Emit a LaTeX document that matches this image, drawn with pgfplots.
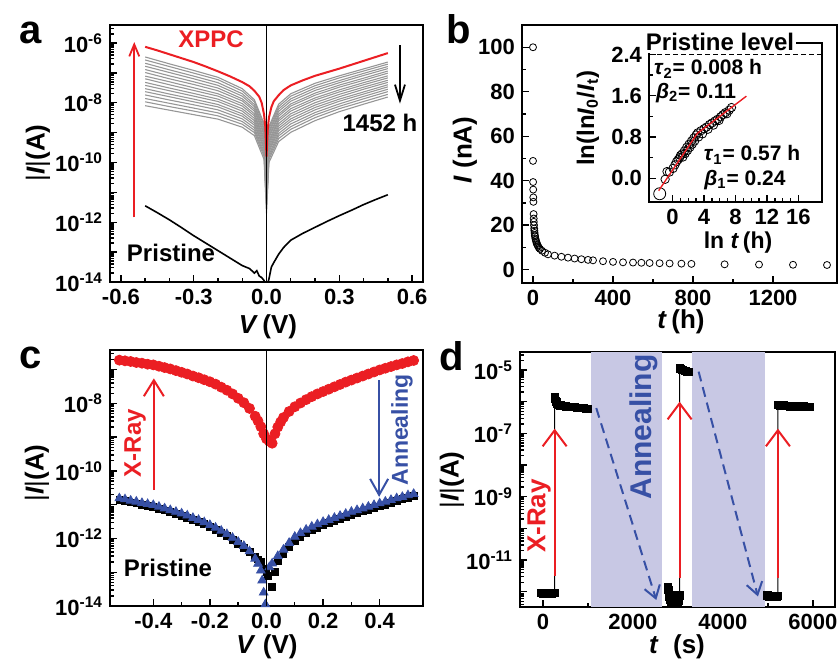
\documentclass[border=0pt]{standalone}
\usepackage{fontspec}
\setmainfont{Liberation Sans}
\usepackage{pgfplots}
\pgfplotsset{compat=1.18}
\usepackage{pgfplotstable}
\usetikzlibrary{arrows.meta}

\definecolor{myred}{RGB}{235,30,35}
\definecolor{myblue}{RGB}{55,80,165}
\definecolor{mygray}{RGB}{150,150,150}
\definecolor{lav}{RGB}{200,200,228}

\pgfplotsset{
 base/.style={scale only axis, anchor=north west, clip mode=individual,
   axis line style={line width=0.9pt}, tick align=inside,
   xtick pos=bottom, ytick pos=left,
   major tick length=3.5pt, minor tick length=1.8pt,
   tick style={black, line width=0.7pt},
   /pgf/number format/assume math mode=true,
   /pgf/number format/1000 sep={},
   tick label style={font=\fontsize{11}{12}\selectfont\bfseries}},
 logminor/.style={minor ytick={2e-15,3e-15,4e-15,5e-15,6e-15,7e-15,8e-15,9e-15,
   2e-14,3e-14,4e-14,5e-14,6e-14,7e-14,8e-14,9e-14,
   2e-13,3e-13,4e-13,5e-13,6e-13,7e-13,8e-13,9e-13,
   2e-12,3e-12,4e-12,5e-12,6e-12,7e-12,8e-12,9e-12,
   2e-11,3e-11,4e-11,5e-11,6e-11,7e-11,8e-11,9e-11,
   2e-10,3e-10,4e-10,5e-10,6e-10,7e-10,8e-10,9e-10,
   2e-9,3e-9,4e-9,5e-9,6e-9,7e-9,8e-9,9e-9,
   2e-8,3e-8,4e-8,5e-8,6e-8,7e-8,8e-8,9e-8,
   2e-7,3e-7,4e-7,5e-7,6e-7,7e-7,8e-7,9e-7,
   2e-6,3e-6,4e-6,5e-6,6e-6,7e-6,8e-6,9e-6,
   2e-5,3e-5,4e-5,5e-5,6e-5,7e-5,8e-5,9e-5}},
}

% ---------- panel a ----------
\pgfplotstableread{
V g1 g2 g3 g4 g5 g6 g7 g8 g9 g10 g11 g12 g13 g14 g15 g16
-0.5 -6.47 -6.57 -6.68 -6.78 -6.89 -6.99 -7.11 -7.20 -7.32 -7.42 -7.53 -7.63 -7.74 -7.86 -7.97 -8.10
-0.4 -6.70 -6.79 -6.90 -6.99 -7.10 -7.20 -7.30 -7.40 -7.51 -7.60 -7.71 -7.80 -7.91 -8.02 -8.13 -8.25
-0.3 -6.92 -7.01 -7.11 -7.20 -7.30 -7.39 -7.50 -7.59 -7.69 -7.78 -7.88 -7.97 -8.07 -8.18 -8.28 -8.40
-0.2 -7.15 -7.23 -7.33 -7.42 -7.51 -7.60 -7.70 -7.78 -7.88 -7.96 -8.06 -8.14 -8.24 -8.34 -8.44 -8.55
-0.1 -7.53 -7.61 -7.70 -7.78 -7.87 -7.94 -8.03 -8.11 -8.20 -8.28 -8.37 -8.45 -8.54 -8.63 -8.72 -8.82
-0.05 -7.90 -7.97 -8.06 -8.13 -8.21 -8.28 -8.37 -8.44 -8.52 -8.60 -8.68 -8.75 -8.84 -8.92 -9.00 -9.10
-0.01 -8.70 -8.77 -8.86 -8.93 -9.01 -9.08 -9.17 -9.24 -9.32 -9.40 -9.48 -9.55 -9.64 -9.72 -9.80 -9.90
0.0 -9.80 -9.91 -10.05 -10.16 -10.29 -10.41 -10.54 -10.66 -10.79 -10.90 -11.04 -11.15 -11.28 -11.42 -11.55 -11.70
0.01 -8.80 -8.87 -8.96 -9.03 -9.11 -9.18 -9.27 -9.34 -9.42 -9.50 -9.58 -9.65 -9.74 -9.82 -9.90 -10.00
0.05 -8.05 -8.13 -8.21 -8.29 -8.38 -8.45 -8.54 -8.61 -8.70 -8.78 -8.86 -8.94 -9.03 -9.11 -9.20 -9.30
0.1 -7.70 -7.78 -7.87 -7.95 -8.04 -8.11 -8.20 -8.28 -8.37 -8.45 -8.54 -8.62 -8.71 -8.80 -8.89 -8.99
0.2 -7.35 -7.43 -7.51 -7.59 -7.68 -7.75 -7.84 -7.91 -8.00 -8.08 -8.16 -8.24 -8.33 -8.41 -8.50 -8.60
0.3 -7.10 -7.17 -7.26 -7.33 -7.41 -7.48 -7.57 -7.64 -7.72 -7.80 -7.88 -7.95 -8.04 -8.12 -8.20 -8.30
0.4 -6.87 -6.94 -7.02 -7.09 -7.18 -7.25 -7.33 -7.40 -7.48 -7.55 -7.64 -7.71 -7.79 -7.87 -7.96 -8.05
0.5 -6.64 -6.71 -6.79 -6.86 -6.94 -7.01 -7.10 -7.17 -7.25 -7.32 -7.40 -7.47 -7.55 -7.63 -7.72 -7.81
}\grayA

\pgfplotstableread{
V ly
-0.50 -6.13
-0.45 -6.25
-0.40 -6.38
-0.35 -6.51
-0.30 -6.64
-0.25 -6.79
-0.20 -6.95
-0.15 -7.12
-0.10 -7.31
-0.07 -7.45
-0.05 -7.60
-0.03 -7.80
-0.02 -8.00
-0.01 -8.40
-0.005 -8.80
0.0 -9.80
0.005 -8.90
0.01 -8.50
0.02 -8.15
0.03 -7.95
0.05 -7.75
0.07 -7.58
0.10 -7.42
0.15 -7.25
0.20 -7.10
0.25 -6.98
0.30 -6.86
0.35 -6.73
0.40 -6.60
0.45 -6.47
0.50 -6.34
}\redA

\pgfplotstableread{
V ly
-0.50 -11.45
-0.45 -11.68
-0.40 -11.92
-0.35 -12.18
-0.30 -12.45
-0.25 -12.70
-0.20 -12.95
-0.15 -13.20
-0.10 -13.45
-0.07 -13.55
-0.05 -13.70
-0.04 -13.62
-0.03 -13.80
-0.02 -13.85
-0.01 -13.95
0.0 -14.20
0.01 -13.90
0.02 -13.50
0.03 -13.35
0.05 -13.07
0.07 -12.85
0.10 -12.60
0.15 -12.37
0.20 -12.17
0.25 -11.97
0.30 -11.78
0.35 -11.60
0.40 -11.41
0.45 -11.24
0.50 -11.08
}\blackA

% ---------- panel b ----------
\pgfplotstableread{
t I
0 100
0 48.9
0.5 39.4
1 36
1.5 32.5
2 30.5
3 25
3.5 23
4 21.5
5 20
6 18.5
7 17.5
8 16.5
9 15.5
10 15
12 14
14 13.3
16 12.7
18 12
20 11.5
23 11
26 10.4
30 9.8
35 9.3
45 8.5
60 7.6
75 6.9
108 6.3
142 5.8
175 5.4
208 5.0
242 4.7
275 4.4
300 4.2
350 3.8
400 3.5
450 3.3
500 3.2
542 3.1
583 3.0
633 2.9
683 2.8
742 2.7
792 2.6
958 2.4
1130 2.3
1300 2.2
1470 2.1
}\dataB

\pgfplotstableread{
x y
-0.95 -0.02
-0.71 0.13
-0.40 0.12
0.05 0.19
0.30 0.26
0.50 0.32
0.70 0.36
0.90 0.40
1.00 0.44
1.20 0.47
1.30 0.41
1.50 0.53
1.60 0.48
1.80 0.60
1.90 0.54
2.10 0.66
2.20 0.60
2.40 0.72
2.50 0.66
2.70 0.78
2.80 0.72
3.00 0.84
3.20 0.88
3.30 0.80
3.60 0.92
3.80 0.86
4.00 0.96
4.30 0.99
4.50 0.95
4.70 1.04
5.00 1.07
5.20 1.03
5.40 1.11
5.70 1.14
5.90 1.12
6.10 1.19
6.40 1.23
6.70 1.27
6.90 1.25
7.20 1.32
7.49 1.37
}\insetB

% ---------- panel c ----------
\pgfplotstableread{
V ly
-0.52 -6.72
-0.50 -6.74
-0.48 -6.76
-0.46 -6.79
-0.44 -6.81
-0.42 -6.84
-0.40 -6.86
-0.38 -6.90
-0.36 -6.94
-0.34 -6.98
-0.32 -7.03
-0.30 -7.08
-0.28 -7.13
-0.26 -7.19
-0.24 -7.24
-0.22 -7.30
-0.20 -7.36
-0.18 -7.43
-0.16 -7.52
-0.14 -7.61
-0.12 -7.72
-0.10 -7.85
-0.08 -7.98
-0.06 -8.15
-0.04 -8.38
-0.03 -8.52
-0.02 -8.69
-0.01 -8.90
0.00 -9.05
0.01 -9.12
0.02 -9.18
0.03 -8.90
0.04 -8.70
0.05 -8.55
0.06 -8.42
0.08 -8.24
0.10 -8.10
0.12 -7.99
0.14 -7.89
0.16 -7.80
0.18 -7.72
0.20 -7.65
0.22 -7.58
0.24 -7.51
0.26 -7.44
0.28 -7.37
0.30 -7.31
0.32 -7.25
0.34 -7.19
0.36 -7.13
0.38 -7.07
0.40 -7.01
0.42 -6.96
0.44 -6.91
0.46 -6.86
0.48 -6.82
0.50 -6.77
0.52 -6.73
}\redC

\pgfplotstableread{
V ly
-0.52 -10.81
-0.50 -10.84
-0.48 -10.88
-0.46 -10.91
-0.44 -10.95
-0.42 -10.98
-0.40 -11.01
-0.38 -11.06
-0.36 -11.11
-0.34 -11.16
-0.32 -11.21
-0.30 -11.26
-0.28 -11.32
-0.26 -11.39
-0.24 -11.45
-0.22 -11.52
-0.20 -11.60
-0.18 -11.68
-0.16 -11.77
-0.14 -11.87
-0.12 -11.98
-0.10 -12.10
-0.08 -12.22
-0.06 -12.38
-0.04 -12.60
-0.03 -12.75
-0.02 -12.95
-0.015 -13.24
-0.01 -13.60
-0.004 -13.95
0.01 -12.85
0.02 -12.74
0.04 -12.52
0.06 -12.33
0.08 -12.13
0.10 -11.95
0.12 -11.84
0.14 -11.74
0.16 -11.65
0.18 -11.58
0.20 -11.51
0.22 -11.45
0.24 -11.39
0.26 -11.33
0.28 -11.27
0.30 -11.21
0.32 -11.16
0.34 -11.11
0.36 -11.06
0.38 -11.01
0.40 -10.96
0.42 -10.91
0.44 -10.86
0.46 -10.81
0.48 -10.77
0.50 -10.72
0.52 -10.68
}\blueC

\pgfplotstableread{
V ly
-0.52 -10.86
-0.50 -10.89
-0.48 -10.93
-0.46 -10.96
-0.44 -11.00
-0.42 -11.03
-0.40 -11.07
-0.38 -11.12
-0.36 -11.17
-0.34 -11.22
-0.32 -11.27
-0.30 -11.32
-0.28 -11.38
-0.26 -11.45
-0.24 -11.51
-0.22 -11.58
-0.20 -11.66
-0.18 -11.74
-0.16 -11.83
-0.14 -11.93
-0.12 -12.04
-0.10 -12.15
-0.08 -12.27
-0.06 -12.40
-0.04 -12.55
-0.03 -12.62
-0.02 -12.70
-0.01 -12.90
0.0 -13.00
0.005 -13.10
0.018 -13.43
0.029 -12.99
0.04 -12.68
0.06 -12.45
0.08 -12.24
0.10 -12.06
0.12 -11.95
0.14 -11.85
0.16 -11.76
0.18 -11.68
0.20 -11.61
0.22 -11.55
0.24 -11.49
0.26 -11.43
0.28 -11.37
0.30 -11.31
0.32 -11.26
0.34 -11.20
0.36 -11.15
0.38 -11.10
0.40 -11.05
0.42 -11.00
0.44 -10.94
0.46 -10.89
0.48 -10.84
0.50 -10.79
0.52 -10.74
}\blackC

% ---------- panel d ----------
\pgfplotstableread{
t ly
-40 -12.05
0 -12.07
40 -12.04
80 -12.06
120 -12.05
160 -12.03
200 -12.06
240 -12.05
260 -12.04
260 -5.85
270 -5.90
285 -5.97
300 -6.02
320 -6.06
350 -6.10
390 -6.12
430 -6.13
470 -6.14
510 -6.15
550 -6.16
600 -6.17
650 -6.18
700 -6.18
750 -6.19
800 -6.20
850 -6.20
900 -6.21
950 -6.22
1000 -6.22
}\segA

\pgfplotstableread{
t ly
2780 -11.85
2790 -11.95
2800 -12.05
2810 -12.15
2820 -12.25
2840 -12.32
2870 -12.35
2900 -12.33
2930 -12.36
2960 -12.32
2990 -12.34
3010 -12.30
2960 -12.12
2990 -12.15
3020 -12.18
3037 -12.12
3037 -4.95
3060 -4.97
3090 -4.99
3120 -5.01
3150 -5.02
3180 -5.04
3210 -5.05
3240 -5.06
}\segB

\pgfplotstableread{
t ly
4990 -12.12
5030 -12.15
5070 -12.13
5110 -12.16
5150 -12.14
5190 -12.15
5222 -12.13
5222 -6.10
5260 -6.12
5300 -6.13
5350 -6.12
5400 -6.14
5450 -6.13
5500 -6.15
5550 -6.14
5600 -6.16
5650 -6.15
5700 -6.17
5750 -6.16
5800 -6.15
5850 -6.17
5900 -6.16
5930 -6.18
}\segC

\begin{document}
\bfseries
\begin{tikzpicture}
% ================= a =================
\begin{axis}[base, logminor, at={(55pt,-12.5pt)}, width=156.5pt, height=128.5pt,
  xmin=-0.645, xmax=0.645, ymode=log, ymin=1e-14, ymax=3.98e-6,
  xtick={-0.6,-0.3,0,0.3,0.6}, xticklabels={-0.6,-0.3,0.0,0.3,0.6}, minor x tick num=2,
  ytick={1e-14,1e-13,1e-12,1e-11,1e-10,1e-9,1e-8,1e-7,1e-6},
  yticklabels={10\textsuperscript{-14},,10\textsuperscript{-12},,10\textsuperscript{-10},,10\textsuperscript{-8},,10\textsuperscript{-6}}]
\pgfplotsinvokeforeach{1,...,16}{\addplot[mygray, line width=0.55pt] table[x=V, y expr=10^(\thisrow{g#1})]{\grayA};}
\addplot[myred, line width=1pt] table[x=V, y expr=10^(\thisrow{ly})]{\redA};
\addplot[black, line width=0.8pt] table[x=V, y expr=10^(\thisrow{ly})]{\blackA};
\draw[black, line width=0.9pt] (axis cs:0,1e-14) -- (axis cs:0,3.98e-6);
\draw[myred, line width=0.9pt, -{Straight Barb[length=6pt,width=5pt]}] (axis cs:-0.545,1.445e-12) -- (axis cs:-0.545,1.07e-6);
\draw[black, line width=0.9pt, -{Straight Barb[length=8pt,width=5pt]}] (axis cs:0.55,8.3e-7) -- (axis cs:0.55,9.3e-9);
\end{axis}

% ================= b =================
\begin{axis}[base, at={(261pt,-12.5pt)}, width=157.5pt, height=129pt,
  xmin=-55, xmax=1520, ymin=-6, ymax=110,
  xtick={0,400,800,1200}, minor x tick num=1,
  ytick={0,20,40,60,80,100}, minor y tick num=1]
\addplot[only marks, mark=o, mark size=1.75pt, mark options={line width=0.4pt, black}] table[x=t, y=I]{\dataB};
\end{axis}
\begin{axis}[base, at={(324.5pt,-21.5pt)}, width=86.5pt, height=79.5pt,
  xmin=-3, xmax=19, ymin=-0.46, ymax=2.62,
  xtick={0,4,8,12,16}, minor x tick num=3,
  ytick={0,0.8,1.6,2.4}, yticklabels={0.0,0.8,1.6,2.4}, minor y tick num=1]
\draw[black, line width=0.6pt, dash pattern=on 2.5pt off 1.5pt] (axis cs:-3,2.4) -- (axis cs:19,2.4);
\addplot[only marks, mark=o, mark size=3pt, mark options={line width=0.4pt, black}] coordinates {(-1.64,-0.30)};
\addplot[only marks, mark=o, mark size=2.1pt, mark options={line width=0.4pt, black}] table[x=x, y=y]{\insetB};
\addplot[myred, line width=0.7pt] coordinates {(-1.77,-0.24) (3.15,0.87) (9.38,1.59)};
\end{axis}

% ================= c =================
\begin{axis}[base, logminor, at={(55pt,-175pt)}, width=156.5pt, height=128pt,
  xmin=-0.553, xmax=0.553, ymode=log, ymin=1e-14, ymax=3.8e-7,
  xtick={-0.4,-0.2,0,0.2,0.4}, xticklabels={-0.4,-0.2,0.0,0.2,0.4}, minor x tick num=1,
  ytick={1e-14,1e-13,1e-12,1e-11,1e-10,1e-9,1e-8,1e-7},
  yticklabels={10\textsuperscript{-14},,10\textsuperscript{-12},,10\textsuperscript{-10},,10\textsuperscript{-8},}]
\addplot[only marks, mark=square*, mark size=1.7pt, black] table[x=V, y expr=10^(\thisrow{ly})]{\blackC};
\addplot[only marks, mark=triangle*, mark size=2.5pt, myblue] table[x=V, y expr=10^(\thisrow{ly})]{\blueC};
\addplot[only marks, mark=*, mark size=2.5pt, myred] table[x=V, y expr=10^(\thisrow{ly})]{\redC};
\draw[black, line width=0.9pt] (axis cs:0,1e-14) -- (axis cs:0,3.8e-7);
\draw[myred, line width=1pt, -{Straight Barb[length=8pt,width=10pt]}] (axis cs:-0.398,2.69e-11) -- (axis cs:-0.398,5.5e-8);
\draw[myblue, line width=1pt, -{Straight Barb[length=8pt,width=9pt]}] (axis cs:0.398,4.9e-8) -- (axis cs:0.398,1.7e-11);
\end{axis}

% ================= d =================
\begin{axis}[base, logminor, at={(260pt,-176pt)}, width=157.5pt, height=127.5pt,
  xmin=-510, xmax=6490, ymode=log, ymin=3.3e-13, ymax=3.7e-5,
  xtick={0,2000,4000,6000}, minor x tick num=1,
  ytick={1e-12,1e-11,1e-10,1e-9,1e-8,1e-7,1e-6,1e-5},
  yticklabels={,10\textsuperscript{-11},,10\textsuperscript{-9},,10\textsuperscript{-7},,10\textsuperscript{-5}}]
\fill[lav] (axis cs:1074,3.3e-13) rectangle (axis cs:2644,3.7e-5);
\fill[lav] (axis cs:3319,3.3e-13) rectangle (axis cs:4926,3.7e-5);
\addplot[black, line width=0.5pt, mark=square*, mark size=1.8pt] table[x=t, y expr=10^(\thisrow{ly})]{\segA};
\addplot[black, line width=0.5pt, mark=square*, mark size=1.8pt] table[x=t, y expr=10^(\thisrow{ly})]{\segB};
\addplot[black, line width=0.5pt, mark=square*, mark size=1.8pt] table[x=t, y expr=10^(\thisrow{ly})]{\segC};
\draw[myred, line width=1pt, -{Straight Barb[length=8pt,width=12pt]}] (axis cs:260,3.16e-12) -- (axis cs:260,1.41e-7);
\draw[myred, line width=1pt, -{Straight Barb[length=8pt,width=12pt]}] (axis cs:3037,2.8e-12) -- (axis cs:3037,1e-6);
\draw[myred, line width=1pt, -{Straight Barb[length=8pt,width=12pt]}] (axis cs:5222,2.8e-12) -- (axis cs:5222,1.41e-7);
\draw[myblue, line width=1pt, dash pattern=on 5pt off 3pt, -{Straight Barb[length=6pt,width=8pt]}] (axis cs:1185,6.3e-7) -- (axis cs:2519,5.5e-13);
\draw[myblue, line width=1pt, dash pattern=on 5pt off 3pt, -{Straight Barb[length=6pt,width=8pt]}] (axis cs:3459,8.9e-6) -- (axis cs:4778,7.1e-13);
\end{axis}

% ================= text (pixel coordinates) =================
\begin{scope}[x=0.5pt, y=-0.5pt]
\node[anchor=base west, font=\fontsize{20}{20}\selectfont\bfseries] at (12,43) {a};
\node[anchor=base west, font=\fontsize{20}{20}\selectfont\bfseries] at (439,43) {b};
\node[anchor=base west, font=\fontsize{20}{20}\selectfont\bfseries] at (12,368) {c};
\node[anchor=base west, font=\fontsize{20}{20}\selectfont\bfseries] at (432,370) {d};
% axis labels
\node[rotate=90, font=\fontsize{13}{13}\selectfont\bfseries] at (38,153) {{\mdseries|}\textit{I}{\mdseries|}(A)};
\node[font=\fontsize{13}{13}\selectfont\bfseries] at (268,327) {\textit{V}\,(V)};
\node[rotate=90, font=\fontsize{13}{13}\selectfont\bfseries] at (465,150) {\textit{I} (nA)};
\node[font=\fontsize{13}{13}\selectfont\bfseries] at (681,322) {\textit{t}\,(h)};
\node[rotate=90, font=\fontsize{13}{13}\selectfont\bfseries] at (37,473) {{\mdseries|}\textit{I}{\mdseries|}(A)};
\node[font=\fontsize{13}{13}\selectfont\bfseries] at (267,647) {\textit{V} (V)};
\node[rotate=90, font=\fontsize{13}{13}\selectfont\bfseries] at (452,480) {{\mdseries|}\textit{I}{\mdseries|}(A)};
\node[font=\fontsize{13}{13}\selectfont\bfseries] at (677,647) {\textit{t}\ \ (s)};
% inset labels
\node[rotate=90, font=\fontsize{12}{12}\selectfont\bfseries] at (588,118) {ln(ln\textit{I}\textsubscript{0}/\textit{I}\textsubscript{t})};
\node[font=\fontsize{11.5}{11.5}\selectfont\bfseries] at (738,243) {ln \textit{t}\,(h)};
\node[fill=white, inner sep=1pt, font=\fontsize{12}{12}\selectfont\bfseries] at (720,42) {Pristine level};
\node[font=\fontsize{10.5}{10.5}\selectfont\bfseries] at (708,69) {\textit{τ}\textsubscript{2}= 0.008 h};
\node[font=\fontsize{10.5}{10.5}\selectfont\bfseries] at (696,93) {\textit{β}\textsubscript{2}= 0.11};
\node[font=\fontsize{10.5}{10.5}\selectfont\bfseries] at (752,155) {\textit{τ}\textsubscript{1}= 0.57 h};
\node[font=\fontsize{10.5}{10.5}\selectfont\bfseries] at (745,180) {\textit{β}\textsubscript{1}= 0.24};
% panel a texts
\node[text=myred, font=\fontsize{12}{12}\selectfont\bfseries] at (211,39) {XPPC};
\node[font=\fontsize{12}{12}\selectfont\bfseries] at (380,123) {1452 h};
\node[font=\fontsize{12}{12}\selectfont\bfseries] at (171,253) {Pristine};
% panel c texts
\node[rotate=90, text=myred, font=\fontsize{12}{12}\selectfont\bfseries] at (135,443) {X-Ray};
\node[rotate=90, text=myblue, font=\fontsize{11.5}{11.5}\selectfont\bfseries] at (402,430) {Annealing};
\node[font=\fontsize{12}{12}\selectfont\bfseries] at (168,568) {Pristine};
% panel d texts
\node[rotate=90, text=myblue, font=\fontsize{15}{15}\selectfont\bfseries] at (644,427) {Annealing};
\node[rotate=90, text=myred, font=\fontsize{13}{13}\selectfont\bfseries] at (539,516) {X-Ray};
\end{scope}
\pgfresetboundingbox
\path (0,0) rectangle (420pt,-330pt);
\end{tikzpicture}
\end{document}
